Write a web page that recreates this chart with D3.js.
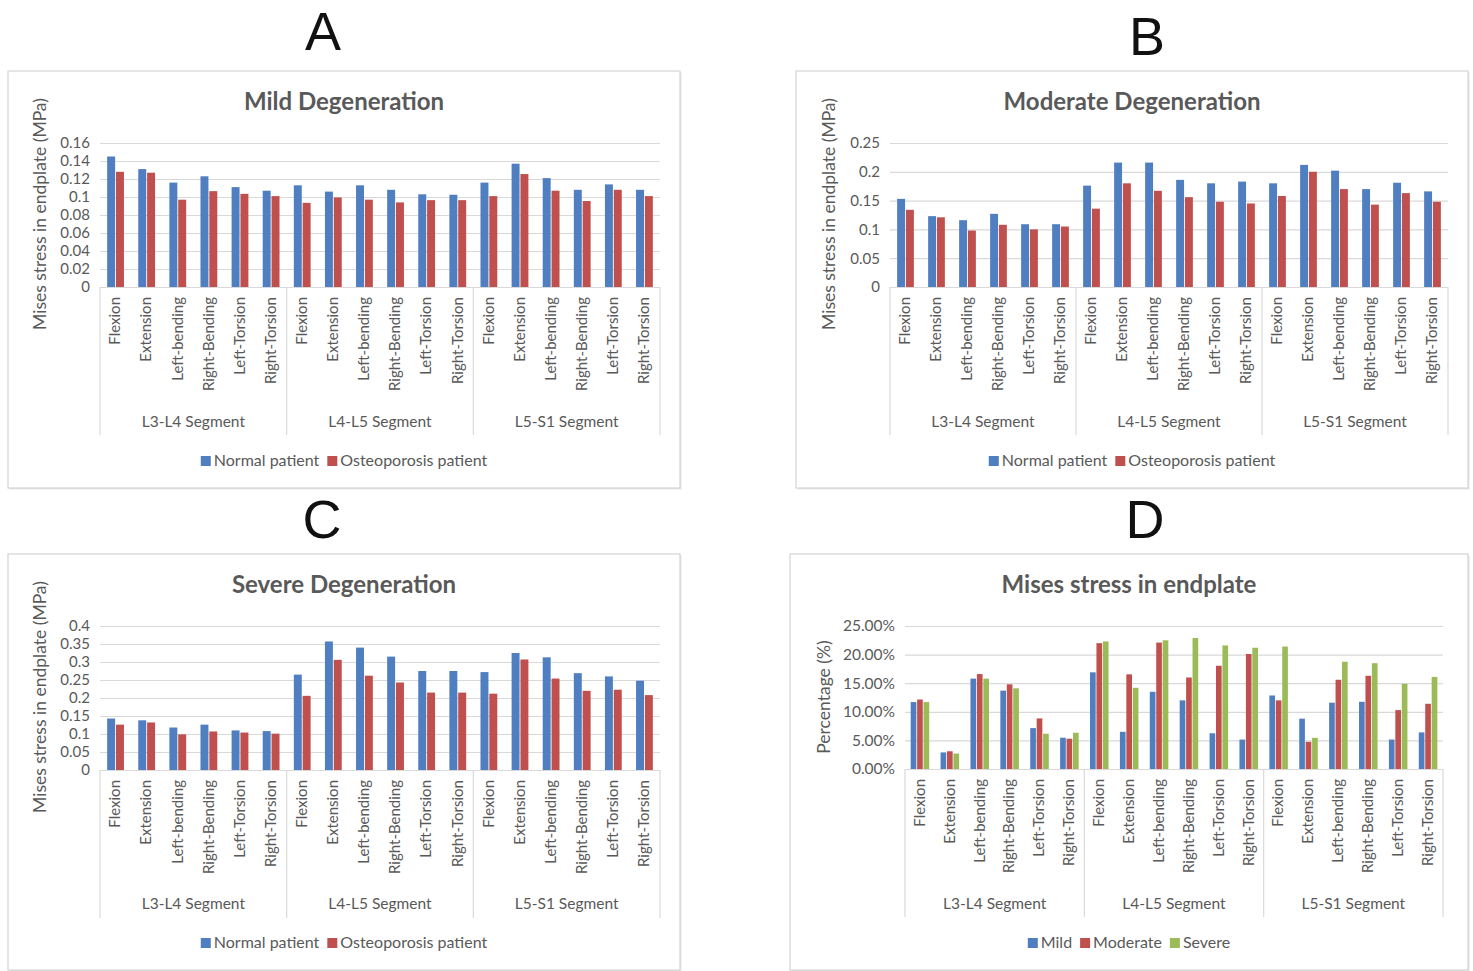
<!DOCTYPE html>
<html>
<head>
<meta charset="utf-8">
<script src="https://cdn.jsdelivr.net/npm/d3@7"></script>
<style>
  html, body { margin: 0; padding: 0; background: #ffffff; }
  svg { display: block; }
  text { font-family: Lato, "Open Sans", "DejaVu Sans", sans-serif; }
</style>
</head>
<body>
<svg id="chart" width="1473" height="971"></svg>
<script>
// ---------- DATA ----------
const movements = ["Flexion", "Extension", "Left-bending", "Right-Bending", "Left-Torsion", "Right-Torsion"];
const segments = ["L3-L4 Segment", "L4-L5 Segment", "L5-S1 Segment"];

const mildNormal = [0.145, 0.131, 0.116, 0.123, 0.111, 0.107,
                    0.113, 0.106, 0.113, 0.108, 0.103, 0.1025,
                    0.116, 0.137, 0.121, 0.108, 0.114, 0.108];
const mildOsteo  = [0.128, 0.127, 0.097, 0.1065, 0.1035, 0.101,
                    0.0935, 0.0995, 0.097, 0.094, 0.0965, 0.0965,
                    0.101, 0.1255, 0.107, 0.0955, 0.108, 0.101];

const moderateNormal = [0.153, 0.123, 0.116, 0.127, 0.109, 0.109,
                        0.176, 0.216, 0.216, 0.186, 0.180, 0.183,
                        0.180, 0.212, 0.202, 0.170, 0.181, 0.166];
const moderateOsteo  = [0.134, 0.121, 0.098, 0.108, 0.100, 0.105,
                        0.136, 0.180, 0.167, 0.156, 0.148, 0.145,
                        0.158, 0.200, 0.170, 0.143, 0.163, 0.148];

const severeNormal = [0.143, 0.138, 0.118, 0.126, 0.110, 0.108,
                      0.265, 0.357, 0.340, 0.315, 0.275, 0.275,
                      0.272, 0.325, 0.313, 0.269, 0.260, 0.248];
const severeOsteo  = [0.126, 0.132, 0.099, 0.107, 0.104, 0.101,
                      0.206, 0.306, 0.262, 0.243, 0.215, 0.215,
                      0.212, 0.307, 0.254, 0.220, 0.223, 0.208];

const pctMild     = [0.117, 0.029, 0.158, 0.137, 0.0715, 0.0547,
                     0.169, 0.065, 0.135, 0.120, 0.0625, 0.0515,
                     0.1285, 0.088, 0.116, 0.1175, 0.0515, 0.064];
const pctModerate = [0.1215, 0.031, 0.166, 0.148, 0.0884, 0.053,
                     0.220, 0.1655, 0.221, 0.160, 0.1805, 0.201,
                     0.120, 0.0475, 0.156, 0.163, 0.103, 0.114];
const pctSevere   = [0.117, 0.027, 0.158, 0.141, 0.0616, 0.0634,
                     0.223, 0.142, 0.225, 0.229, 0.216, 0.212,
                     0.214, 0.0545, 0.1875, 0.185, 0.149, 0.161];

const mildTicks     = [0, 0.02, 0.04, 0.06, 0.08, 0.1, 0.12, 0.14, 0.16];
const moderateTicks = [0, 0.05, 0.1, 0.15, 0.2, 0.25];
const severeTicks   = [0, 0.05, 0.1, 0.15, 0.2, 0.25, 0.3, 0.35, 0.4];
const pctTicks      = [0, 0.05, 0.10, 0.15, 0.20, 0.25];

const twoSeriesNames = ["Normal patient", "Osteoporosis patient"];
const threeSeriesNames = ["Mild", "Moderate", "Severe"];
const seriesColors = ["#4F7FC0", "#C0504D", "#9BBB59"];

// ---------- DRAW ----------
const svg = d3.select("#chart");
const textColor = "#595959";
const gridColor = "#d9d9d9";

const categories = [];
segments.forEach((s, si) => movements.forEach((m, mi) => categories.push({ id: si * 6 + mi, seg: s, mov: m })));

function numFmt(d) { return d === 0 ? "0" : String(+d.toFixed(2)); }

function drawPanel(cfg) {
  const g = svg.append("g");
  // box
  g.append("rect")
    .attr("x", cfg.box[0] + 1.5).attr("y", cfg.box[1] + 1.5)
    .attr("width", cfg.box[2]).attr("height", cfg.box[3])
    .attr("fill", "#e6e6e6");
  g.append("rect")
    .attr("x", cfg.box[0]).attr("y", cfg.box[1])
    .attr("width", cfg.box[2]).attr("height", cfg.box[3])
    .attr("fill", "#ffffff").attr("stroke", "#d4d4d4").attr("stroke-width", 1.2);

  const cx = cfg.box[0] + cfg.box[2] / 2;

  // panel letter
  svg.append("text")
    .attr("x", cfg.letterPos[0]).attr("y", cfg.letterPos[1])
    .attr("text-anchor", "middle")
    .style("font-family", "'Liberation Sans', Arial, sans-serif")
    .style("font-size", "54px").style("font-weight", 400)
    .attr("fill", "#111").text(cfg.letter);

  // title
  g.append("text")
    .attr("x", cx).attr("y", cfg.titleY)
    .attr("text-anchor", "middle")
    .style("font-size", "24px").style("font-weight", 700)
    .attr("fill", textColor).text(cfg.title);

  const y = d3.scaleLinear().domain([0, cfg.ticks[cfg.ticks.length - 1]]).range([cfg.bottom, cfg.top]);
  const x0 = d3.scaleBand().domain(categories.map(c => c.id)).range([cfg.left, cfg.right]).paddingInner(0).paddingOuter(0);
  const bw = x0.bandwidth();
  const groupW = bw * cfg.groupFrac;
  const x1 = d3.scaleBand().domain(d3.range(cfg.series.length)).range([(bw - groupW) / 2, (bw + groupW) / 2]).paddingInner(cfg.innerPad);

  // gridlines via axis
  const yAxis = d3.axisLeft(y).tickValues(cfg.ticks).tickSize(-(cfg.right - cfg.left)).tickFormat(cfg.fmt).tickPadding(10);
  const ag = g.append("g").attr("transform", `translate(${cfg.left},0)`).call(yAxis);
  ag.select(".domain").remove();
  ag.selectAll(".tick line").attr("stroke", gridColor).attr("stroke-width", 1.2);
  ag.selectAll(".tick text").attr("fill", textColor).style("font-size", cfg.tickFont)
    .style("font-family", "Lato, 'Open Sans', sans-serif");

  // bars
  cfg.series.forEach((vals, si) => {
    g.append("g").selectAll("rect").data(categories).join("rect")
      .attr("x", c => x0(c.id) + x1(si))
      .attr("width", x1.bandwidth())
      .attr("y", c => y(vals[c.id]))
      .attr("height", c => y(0) - y(vals[c.id]))
      .attr("fill", seriesColors[si]);
  });

  // category separators (segments)
  const sepX = [0, 6, 12].map(i => x0(i)).concat([cfg.right]);
  g.append("g").selectAll("line").data(sepX).join("line")
    .attr("x1", d => d).attr("x2", d => d)
    .attr("y1", cfg.bottom).attr("y2", cfg.bottom + cfg.sepLen)
    .attr("stroke", gridColor).attr("stroke-width", 1.2);

  // category labels
  g.append("g").selectAll("text").data(categories).join("text")
    .attr("transform", c => `translate(${x0(c.id) + bw / 2 + 1},${cfg.bottom + 10}) rotate(-90)`)
    .attr("text-anchor", "end").attr("dominant-baseline", "middle")
    .style("font-size", "15px").attr("fill", textColor)
    .text(c => c.mov);

  // segment labels
  g.append("g").selectAll("text").data(segments).join("text")
    .attr("x", (s, i) => (sepX[i] + sepX[i + 1]) / 2)
    .attr("y", cfg.bottom + cfg.segLabelDy)
    .attr("text-anchor", "middle")
    .style("font-size", "15.5px").attr("fill", textColor)
    .text(s => s);

  // y title
  g.append("text")
    .attr("transform", `translate(${cfg.yTitlePos[0]},${cfg.yTitlePos[1]}) rotate(-90)`)
    .attr("text-anchor", "middle").attr("dominant-baseline", "middle")
    .style("font-size", "17.5px").attr("fill", textColor)
    .text(cfg.yTitle);

  // legend
  const lg = g.append("g");
  const items = [];
  let xPos = 0;
  const lf = "16px";
  cfg.names.forEach((n, i) => {
    const tmp = lg.append("text").style("font-size", lf).text(n);
    const w = tmp.node().getComputedTextLength();
    tmp.remove();
    items.push({ n, i, x: xPos });
    xPos += 13 + w + 8;
  });
  const total = xPos - 8;
  const lx = cx - total / 2;
  const ly = cfg.legendY;
  items.forEach(it => {
    lg.append("rect").attr("x", lx + it.x).attr("y", ly - 5).attr("width", 10).attr("height", 10)
      .attr("fill", seriesColors[it.i]);
    lg.append("text").attr("x", lx + it.x + 13).attr("y", ly + 1).attr("dominant-baseline", "middle")
      .style("font-size", lf).attr("fill", textColor).text(it.n);
  });
}

drawPanel({
  letter: "A", letterPos: [323, 50], box: [8, 71, 672, 417], title: "Mild Degeneration", titleY: 110,
  left: 100, right: 660, top: 143, bottom: 287, ticks: mildTicks, fmt: numFmt, tickFont: "15px",
  series: [mildNormal, mildOsteo], names: twoSeriesNames, groupFrac: 0.54, innerPad: 0.1,
  sepLen: 148, segLabelDy: 140, yTitle: "Mises stress in endplate (MPa)", yTitlePos: [42, 214], legendY: 461
});
drawPanel({
  letter: "B", letterPos: [1147, 55], box: [796, 71, 672, 417], title: "Moderate Degeneration", titleY: 110,
  left: 890, right: 1448, top: 143, bottom: 287, ticks: moderateTicks, fmt: numFmt, tickFont: "15px",
  series: [moderateNormal, moderateOsteo], names: twoSeriesNames, groupFrac: 0.54, innerPad: 0.1,
  sepLen: 148, segLabelDy: 140, yTitle: "Mises stress in endplate (MPa)", yTitlePos: [831, 214], legendY: 461
});
drawPanel({
  letter: "C", letterPos: [322, 538], box: [8, 554, 672, 416], title: "Severe Degeneration", titleY: 593,
  left: 100, right: 660, top: 626, bottom: 770, ticks: severeTicks, fmt: numFmt, tickFont: "15px",
  series: [severeNormal, severeOsteo], names: twoSeriesNames, groupFrac: 0.54, innerPad: 0.1,
  sepLen: 148, segLabelDy: 139, yTitle: "Mises stress in endplate (MPa)", yTitlePos: [42, 697], legendY: 943
});
drawPanel({
  letter: "D", letterPos: [1145, 538], box: [790, 554, 678, 416], title: "Mises stress in endplate", titleY: 593,
  left: 905, right: 1443, top: 626, bottom: 769, ticks: pctTicks, fmt: d3.format(".2%"), tickFont: "15.5px",
  series: [pctMild, pctModerate, pctSevere], names: threeSeriesNames, groupFrac: 0.62, innerPad: 0.12,
  sepLen: 148, segLabelDy: 140, yTitle: "Percentage (%)", yTitlePos: [826, 697], legendY: 943
});
</script>
</body>
</html>
